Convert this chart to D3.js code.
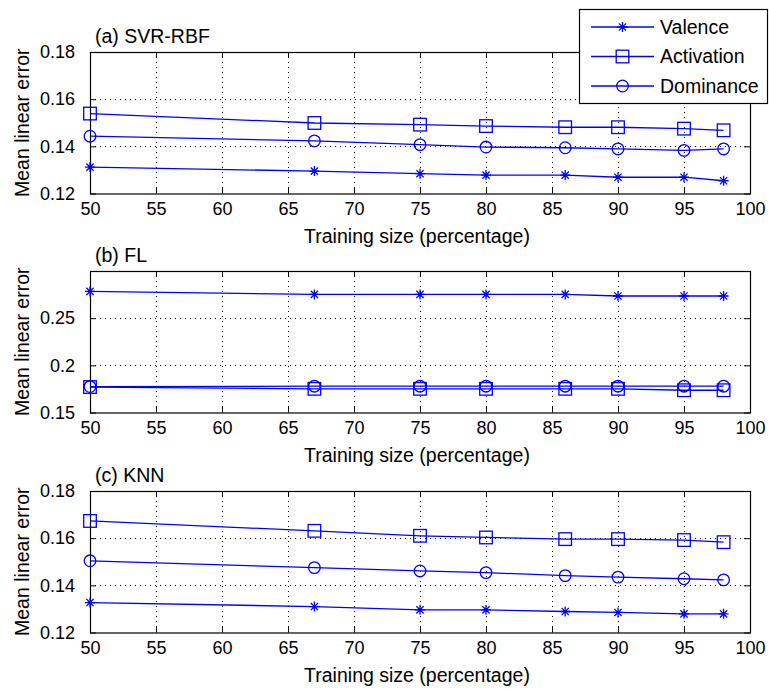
<!DOCTYPE html>
<html>
<head>
<meta charset="utf-8">
<script src="https://cdn.jsdelivr.net/npm/d3@7"></script>
<style>
  body { margin: 0; background: #fff; }
  text { font-family: "Liberation Sans", Arial, sans-serif; fill: #000; }
</style>
</head>
<body>
<div id="vis"></div>
<script>
var width = 769, height = 691;

// Data
var trainSizes = [50, 67, 75, 80, 86, 90, 95, 98];
var seriesNames = ["Valence", "Activation", "Dominance"];
var xTicks = [50, 55, 60, 65, 70, 75, 80, 85, 90, 95, 100];

var svrValence    = [0.1312, 0.1295, 0.1284, 0.1278, 0.1278, 0.1269, 0.1269, 0.1254];
var svrActivation = [0.1539, 0.1499, 0.1492, 0.1486, 0.1481, 0.1481, 0.1475, 0.1468];
var svrDominance  = [0.1443, 0.1423, 0.1407, 0.1397, 0.1394, 0.1389, 0.1383, 0.1389];

var flValence    = [0.2784, 0.2752, 0.2752, 0.2752, 0.2752, 0.2735, 0.2735, 0.2735];
var flActivation = [0.1770, 0.1751, 0.1751, 0.1751, 0.1751, 0.1751, 0.1736, 0.1736];
var flDominance  = [0.1775, 0.1779, 0.1779, 0.1779, 0.1779, 0.1779, 0.1779, 0.1779];

var knnValence    = [0.1327, 0.1310, 0.1296, 0.1296, 0.1289, 0.1285, 0.1279, 0.1279];
var knnActivation = [0.1673, 0.1631, 0.1610, 0.1603, 0.1596, 0.1596, 0.1592, 0.1583];
var knnDominance  = [0.1504, 0.1475, 0.1461, 0.1454, 0.1441, 0.1435, 0.1428, 0.1423];

var panels = [
  {title: "(a) SVR-RBF", top: 52,  domain: [0.12, 0.18], ticks: [0.12, 0.14, 0.16, 0.18], fmt: d3.format(".2f"),
   series: [svrValence, svrActivation, svrDominance]},
  {title: "(b) FL",      top: 271, domain: [0.15, 0.30], ticks: [0.15, 0.2, 0.25], fmt: function(d){ return String(+d.toFixed(2)); },
   series: [flValence, flActivation, flDominance]},
  {title: "(c) KNN",     top: 491, domain: [0.12, 0.18], ticks: [0.12, 0.14, 0.16, 0.18], fmt: d3.format(".2f"),
   series: [knnValence, knnActivation, knnDominance]}
];

var left = 90, right = 750, plotH = 141.5;
var blue = "#0000ff";
var markers = ["star", "square", "circle"];

var svg = d3.select("#vis").append("svg")
    .attr("width", width)
    .attr("height", height);

var x = d3.scaleLinear().domain([50, 100]).range([left, right]);

function drawMarker(g, type, px, py) {
  if (type === "star") {
    var s = 5;
    g.append("path")
      .attr("d", "M" + (px - s) + "," + py + "H" + (px + s) +
                 "M" + px + "," + (py - s) + "V" + (py + s) +
                 "M" + (px - 3.6) + "," + (py - 3.6) + "L" + (px + 3.6) + "," + (py + 3.6) +
                 "M" + (px - 3.6) + "," + (py + 3.6) + "L" + (px + 3.6) + "," + (py - 3.6))
      .attr("stroke", blue).attr("stroke-width", 1.3).attr("fill", "none");
  } else if (type === "square") {
    g.append("rect")
      .attr("x", px - 6.3).attr("y", py - 6.3)
      .attr("width", 12.6).attr("height", 12.6)
      .attr("stroke", blue).attr("stroke-width", 1.3).attr("fill", "none");
  } else {
    g.append("circle")
      .attr("cx", px).attr("cy", py).attr("r", 5.8)
      .attr("stroke", blue).attr("stroke-width", 1.3).attr("fill", "none");
  }
}

panels.forEach(function(p) {
  var y = d3.scaleLinear().domain(p.domain).range([p.top + plotH, p.top]);
  var g = svg.append("g");
  var bottom = p.top + plotH;

  // grid (dotted)
  var grid = g.append("g").attr("stroke", "#000").attr("stroke-width", 1)
      .attr("stroke-dasharray", "1,4").attr("shape-rendering", "crispEdges");
  xTicks.slice(1, -1).forEach(function(t) {
    grid.append("line").attr("x1", Math.round(x(t)) + 0.5).attr("x2", Math.round(x(t)) + 0.5)
      .attr("y1", p.top).attr("y2", bottom);
  });
  p.ticks.forEach(function(t) {
    if (t === p.domain[0] || t === p.domain[1]) return;
    grid.append("line").attr("y1", Math.round(y(t)) + 0.5).attr("y2", Math.round(y(t)) + 0.5)
      .attr("x1", left).attr("x2", right);
  });

  // axes: bottom / left with inward ticks, plus mirrored ticks
  var xAxis = d3.axisBottom(x).tickValues(xTicks).tickSize(-6).tickPadding(9).tickFormat(d3.format("d"));
  var gx = g.append("g").attr("transform", "translate(0," + bottom + ")").call(xAxis);
  var gxTop = g.append("g").attr("transform", "translate(0," + p.top + ")")
      .call(d3.axisTop(x).tickValues(xTicks).tickSize(-6).tickFormat(""));
  var yAxis = d3.axisLeft(y).tickValues(p.ticks).tickSize(-6).tickPadding(15).tickFormat(p.fmt);
  var gy = g.append("g").attr("transform", "translate(" + left + ",0)").call(yAxis);
  var gyR = g.append("g").attr("transform", "translate(" + right + ",0)")
      .call(d3.axisRight(y).tickValues(p.ticks).tickSize(-6).tickFormat(""));
  [gx, gxTop, gy, gyR].forEach(function(a) {
    a.select(".domain").remove();
    a.selectAll("line").attr("stroke", "#000");
    a.selectAll("text").style("font-size", "18px").attr("fill", "#000")
      .style("font-family", "'Liberation Sans', Arial, sans-serif");
  });
  gx.selectAll("text").attr("dy", "0.71em");

  // box
  g.append("rect").attr("x", left + 0.5).attr("y", p.top + 0.5)
    .attr("width", right - left).attr("height", plotH)
    .attr("fill", "none").attr("stroke", "#000").attr("stroke-width", 1.2);

  // series
  var line = d3.line().x(function(d, i) { return x(trainSizes[i]); }).y(function(d) { return y(d); });
  p.series.forEach(function(vals, si) {
    g.append("path").datum(vals).attr("d", line)
      .attr("fill", "none").attr("stroke", blue).attr("stroke-width", 1.3);
    vals.forEach(function(v, i) { drawMarker(g, markers[si], x(trainSizes[i]), y(v)); });
  });

  // labels
  g.append("text").attr("x", 95).attr("y", p.top - 9)
    .style("font-size", "19.5px").text(p.title);
  g.append("text").attr("x", (left + right) / 2 - 3).attr("y", bottom + 49.5)
    .attr("text-anchor", "middle").style("font-size", "19.5px").text("Training size (percentage)");
  g.append("text")
    .attr("transform", "translate(29," + (p.top + plotH / 2) + ") rotate(-90)")
    .attr("text-anchor", "middle").style("font-size", "19.5px").text("Mean linear error");
});

// legend
var legend = svg.append("g").classed("legend", true);
legend.append("rect").attr("x", 579.5).attr("y", 9.5).attr("width", 188).attr("height", 94)
  .attr("fill", "#fff").attr("stroke", "#000").attr("stroke-width", 1.2);
seriesNames.forEach(function(name, i) {
  var ly = 27 + i * 29.5;
  legend.append("line").attr("x1", 591).attr("x2", 654).attr("y1", ly).attr("y2", ly)
    .attr("stroke", blue).attr("stroke-width", 1.3);
  drawMarker(legend, markers[i], 622.5, ly);
  legend.append("text").attr("x", 660).attr("y", ly).attr("dy", "0.35em")
    .style("font-size", "19.5px").text(name);
});
</script>
</body>
</html>
